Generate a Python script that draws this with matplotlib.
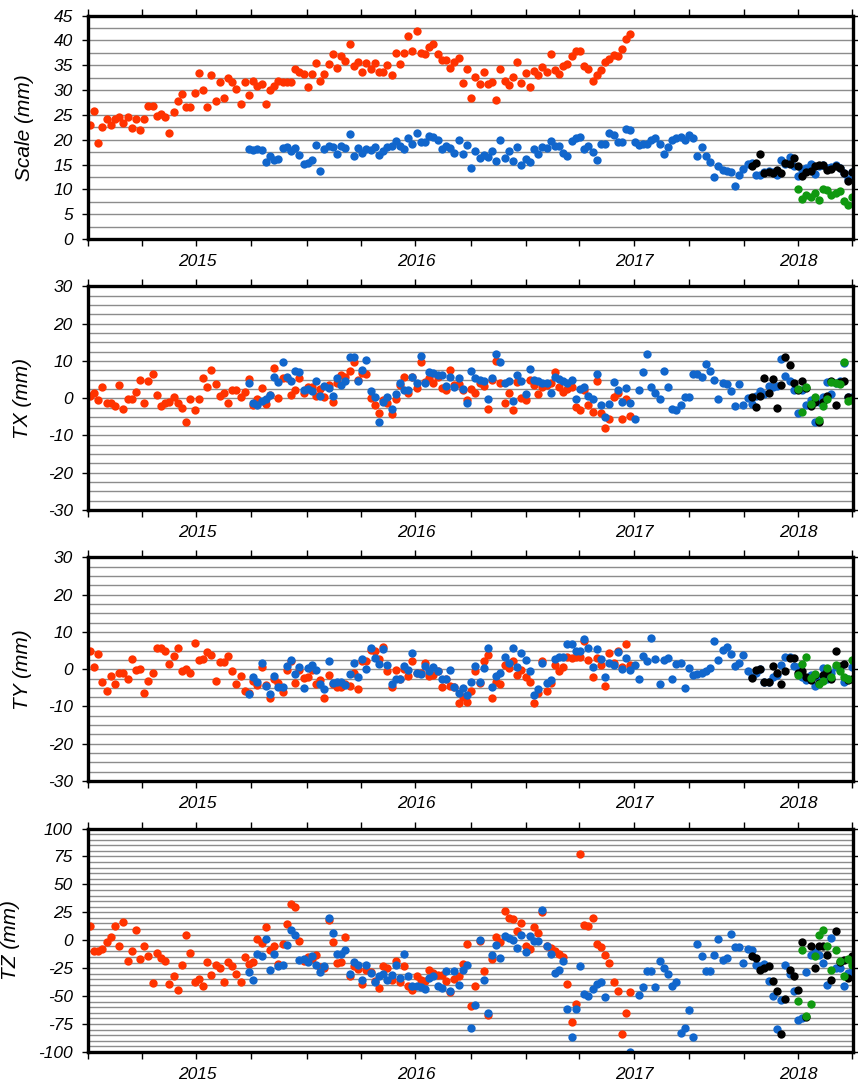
import numpy as np
import pandas as pd
import matplotlib
matplotlib.use('Agg')
import matplotlib.pyplot as plt
import matplotlib.dates as mdates
from matplotlib.ticker import MultipleLocator, FixedLocator, FixedFormatter, NullFormatter

plt.rcParams['font.family'] = ['Liberation Sans', 'DejaVu Sans']
plt.rcParams['axes.unicode_minus'] = False

# weekly solutions, four series (red, blue, black, green)
red_scale = [23.0,25.7,19.4,22.6,24.1,23.0,24.1,24.6,23.4,24.6, 22.4,24.2,22.0,24.2,26.8,26.8,24.8,25.1,24.6,21.4,
             25.5,27.7,29.1,26.5,26.5,29.3,33.4,30.1,26.5,33.0, 27.7,31.6,28.3,32.4,31.6,30.3,27.2,31.6,28.9,31.8,
             30.9,31.2,27.1,30.1,30.9,31.9,31.6,31.6,31.6,34.2, 33.7,33.3,30.6,33.2,35.5,31.8,33.2,35.3,37.3,34.4,
             36.8,35.8,39.3,34.9,35.6,33.7,35.4,34.2,35.4,33.6, 33.6,35.1,33.0,37.5,35.3,37.5,40.9,37.9,41.8,37.5,
             37.3,38.6,
             39.3,37.3,36.0,36.0,34.4,35.6,36.4,31.4,34.2,28.4, 32.7,31.3,33.6,31.3,31.7,27.9,34.2,31.8,31.1,32.6,
             35.6,31.5,33.4,30.7,33.8,33.0,34.6,33.6,37.3,34.0, 33.2,34.9,35.2,36.8,37.8,37.8,34.9,34.2,31.9,33.0,
             34.1,35.6,36.2,37.0,36.8,38.2,40.3,41.3]
red_tx = [0.6,1.5,-0.6,2.9,-1.2,-1.3,-2.1,3.6,-3.0,-0.3, -0.3,1.6,4.9,-1.2,4.7,6.4,0.8,-2.1,-1.2,-0.9,
          0.4,-1.2,-2.7,-6.4,-0.3,-3.2,-0.3,5.5,3.0,7.5, 3.9,0.6,1.3,-1.4,2.2,2.1,0.2,1.6,5.1,-1.7,
          -0.3,2.8,-1.6,0.9,8.1,0.0,5.4,5.4,0.9,2.2, 5.3,1.3,3.1,2.9,0.6,2.5,0.4,3.6,-1.0,4.0,
          6.2,5.8,7.4,9.6,4.9,6.7,6.4,0.1,-1.7,-4.0, -0.4,-1.3,-4.3,-0.3,3.6,5.8,1.3,5.6,2.7,9.6,
          4.3,5.4,
          4.2,5.8,2.7,2.1,7.6,3.6,3.8,2.2,-0.6,2.6, 1.3,4.0,3.4,-3.0,4.9,10.1,4.0,-1.4,1.3,-3.1,
          4.3,0.0,-0.6,4.9,3.6,1.0,2.9,3.6,4.0,7.0, 3.1,1.6,2.4,3.0,-2.3,-3.3,2.1,-1.9,-3.6,4.7,
          -4.0,-8.1,-5.6,0.2,1.3,-5.7,-0.1,-4.7]
red_ty = [4.8,0.6,4.0,-3.5,-5.8,-1.8,-4.0,-0.9,-1.1,-2.6, 2.7,-0.3,0.1,-6.5,-3.1,-1.0,5.8,5.6,4.8,1.3,
          3.6,5.6,-0.4,0.1,-1.1,7.1,2.5,2.8,4.5,3.8, -3.1,2.0,2.0,3.6,-0.6,-4.0,-1.7,-5.8,-6.5,-3.1,
          -4.2,0.6,-4.3,-7.8,-2.7,-3.8,-6.0,-0.2,2.3,-3.6, -0.2,-2.4,-2.0,-0.2,-4.0,-2.9,-7.6,-1.5,-4.0,-4.7,
          -4.7,-4.0,-4.4,-0.9,-5.4,2.1,2.1,5.2,4.8,2.7, 5.9,-0.4,-4.9,-0.2,-2.7,0.0,-1.7,2.1,-1.1,-1.1,
          1.6,-1.8,
          -1.5,-0.5,-4.7,-2.6,-4.5,-4.7,-9.2,-7.4,-8.9,-5.8, -0.6,-3.6,2.1,3.9,-7.6,-3.3,-4.0,1.2,0.3,2.1,
          -1.5,-0.2,-2.0,-3.3,-9.0,-6.5,2.1,-5.8,-3.8,1.2, -0.4,0.7,3.4,3.0,3.2,3.2,7.5,2.5,-2.0,3.0,
          1.2,-4.4,4.3,1.8,4.9,0.7,6.8,1.2]
red_tz = [13.1,-9.9,-9.9,-7.8,-1.8,3.0,13.1,-4.8,16.1,-18.2, -9.9,9.0,-16.4,-5.4,-13.7,-38.2,-11.3,-15.8,-18.2,-39.1,
          -32.2,-44.2,-22.4,4.5,-11.3,-37.3,-34.6,-41.2,-19.7,-30.7, -22.1,-24.8,-37.0,-19.7,-23.3,-30.1,-37.0,-15.2,-21.2,-19.4,
          1.2,-2.7,11.9,-8.4,-5.4,-21.2,-3.0,14.6,32.5,29.9, -0.9,-18.2,-15.2,-16.4,-12.8,-23.9,-25.1,18.5,-1.8,-20.3,
          -19.7,2.7,-32.2,-22.7,-25.7,-38.8,-26.3,-28.0,-36.7,-42.7, -23.3,-24.8,-35.8,-18.8,-37.3,-22.7,-41.2,-44.2,-32.2,-35.2,
          -36.7,-26.3,
          -29.3,-30.7,-31.3,-36.7,-46.6,-34.3,-32.2,-20.9,-3.3,-58.5, -40.6,-0.3,-27.8,-66.6,-16.4,3.0,-1.8,26.0,20.0,19.1,
          8.7,15.5,-5.4,-7.8,11.6,6.6,25.4,-5.4,-6.9,-9.9, -11.9,-15.2,-39.1,-73.1,-56.7,77.6,13.7,12.5,20.3,-3.3,
          -6.3,-13.4,-20.3,-37.3,-45.0,-83.9,-65.1,-46.6]

blue_scale = [18.1,17.9,18.1,17.9,15.5,16.8,15.9,16.1,18.3,18.5, 17.7,18.4,17.0,15.2,15.4,15.9,19.0,13.6,18.2,18.8,
              18.5,17.2,18.8,18.4,21.2,16.7,18.4,17.3,18.2,18.0, 18.6,17.0,17.7,18.6,18.8,19.8,18.8,18.2,20.4,19.1,
              21.4,19.6,19.6,20.7,
              20.6,19.9,18.1,18.8,18.4,17.3,20.0,17.1,19.0,14.4, 17.8,16.3,16.9,16.6,17.7,15.8,20.0,16.3,17.7,15.8,
              18.5,15.0,16.1,15.5,18.1,17.1,18.5,18.4,19.7,18.7, 18.8,17.4,16.8,19.7,20.4,20.6,18.2,18.8,17.5,16.0,
              19.1,19.1,21.4,20.9,19.5,19.6,22.1,21.9,19.6,19.0, 19.2,19.2,20.0,20.4,19.2,17.1,18.5,19.9,20.4,20.5,
              20.0,21.0,20.4,16.7,18.6,16.7,15.6,12.5,14.7,13.9, 13.7,13.5,10.7,12.8,14.1,15.1,15.4,12.9,12.9,13.5,
              13.6,13.5,12.9,15.9,15.2,16.5,14.8,12.7,13.9,14.2, 15.2,13.1,14.8,15.0,14.2,14.5,15.0,14.2,13.3,12.1,
              13.5]
blue_tx = [4.0,-1.3,-1.8,-0.8,-0.3,0.9,5.8,4.4,9.8,5.8, 4.7,7.4,6.9,2.2,2.5,1.8,4.6,0.7,3.4,2.7,
           0.6,5.4,3.5,4.7,11.0,11.0,4.7,7.6,10.3,1.8, 0.2,-6.4,-1.0,0.4,-2.9,1.0,4.0,2.1,2.1,5.8,
           4.0,11.4,4.2,6.9,
           6.7,6.2,6.3,3.2,5.8,2.9,5.4,2.6,-1.3,7.2, 5.4,4.9,4.7,-0.2,5.4,11.9,9.6,4.0,4.7,-0.7,
           6.3,4.5,1.1,7.8,4.9,4.7,4.0,4.0,1.3,5.8, 5.1,4.7,4.0,4.9,-0.1,2.6,3.0,0.7,-0.2,6.4,
           -1.9,-5.1,-1.5,4.3,2.1,-1.1,2.7,-1.3,-5.6,2.2, 7.0,11.9,2.9,1.5,-0.3,7.4,3.1,-3.0,-3.1,-1.8,
           0.3,0.4,6.4,6.4,5.8,9.2,7.2,4.9,-0.3,4.2, 3.8,1.8,-2.2,3.8,-1.7,0.0,-1.5,0.5,2.0,1.2,
           3.2,3.0,3.3,10.5,6.0,4.7,2.2,-4.1,2.2,-1.8, -0.4,-6.5,-1.0,0.4,4.3,1.0,4.0,4.7,9.5,0.3,
           0.4]
blue_ty = [-6.7,-2.2,-3.5,1.6,-4.4,-6.7,-1.8,-4.7,-4.9,0.9, 2.4,-1.3,0.6,-5.1,0.4,1.1,-0.1,-4.0,-5.2,2.2,
           -3.6,-3.3,-3.3,-4.2,-1.3,1.6,-2.0,2.7,0.0,5.7, 3.0,1.3,5.5,1.1,-4.0,-2.7,-2.7,0.9,-0.2,4.3,
           -0.9,-1.3,0.9,-0.6,
           0.7,-0.4,-2.7,-2.7,-0.2,-4.9,-6.5,-5.1,-6.9,-3.3, 0.9,-3.3,0.4,5.7,-4.7,-1.8,-0.9,3.2,1.6,5.7,
           0.5,4.3,2.5,-0.6,-6.9,-5.4,1.8,-3.8,-2.9,2.7, 3.2,3.2,6.8,6.8,4.8,5.0,8.1,5.6,0.7,5.4,
           2.7,-2.2,1.8,1.2,4.5,0.0,3.0,-0.2,1.2,-2.6, 3.6,2.3,8.4,2.7,-4.0,2.5,3.0,-2.6,1.3,1.6,
           -5.1,0.4,-1.5,-1.3,-0.9,-0.4,0.3,7.5,2.5,5.2, 6.1,4.1,0.9,1.6,3.9,-0.6,-2.0,-1.0,0.0,-3.5,
           -3.5,-2.0,-1.5,1.2,3.4,3.2,1.0,0.7,-2.0,-2.9, -1.5,-4.5,-2.5,0.3,-2.5,-1.0,0.5,0.7,-3.3,-2.5,
           0.5]
blue_tz = [-28.7,-35.8,-12.2,-14.3,1.5,-26.3,-11.9,-23.3,-22.4,-3.9, 9.6,4.5,-17.3,-16.4,-19.7,-13.7,-22.4,-28.7,-22.7,20.0,
           6.6,-11.9,-11.9,-8.4,-30.1,-19.7,-22.4,-35.2,-22.4,-29.3, -37.3,-32.2,-29.9,-35.8,-30.7,-22.4,-33.7,-11.9,-32.2,-41.2,
           -41.2,-42.1,-43.6,-33.7,
           -32.2,-41.2,-42.7,-27.2,-45.7,-27.8,-40.3,-26.3,-22.4,-78.5, -57.6,0.6,-35.2,-65.1,-13.4,-3.9,-15.8,4.2,2.1,0.0,
           -6.9,5.1,-10.4,3.6,-0.3,-0.9,27.5,-4.8,-12.2,-29.3, -26.3,-18.2,-61.5,-86.6,-61.2,-23.3,-47.8,-49.6,-43.3,-38.8,
           -37.3,-50.7,np.nan,np.nan,np.nan,np.nan,np.nan,-100.0,np.nan,-49.3, -42.1,-27.2,-27.2,-41.8,-18.8,-24.8,-29.9,-40.6,-37.3,-83.0,
           -78.5,-62.7,-86.6,-3.3,-14.3,-27.8,-27.2,-12.8,1.2,-17.9, -15.8,6.0,-6.0,-6.0,-20.3,-7.8,-8.4,-22.4,-23.3,-20.9,
           -36.7,-50.1,-79.1,-53.7,-22.4,-29.9,-45.7,-71.6,-69.6,-28.4, -13.4,-10.4,-13.4,-20.3,-40.3,2.1,-24.8,-24.8,-41.2,-29.3,
           -27.8]

black_scale = [14.8,15.3,17.1,13.3,13.4,13.3,13.9,13.3,15.3,15.2,16.4,14.8,12.7,13.5,13.6,14.7,14.9,15.0,13.9,14.1,
               14.7,14.2,13.2,11.7,13.5]
black_tx = [0.2,-2.4,0.7,5.5,1.3,5.1,-2.6,3.6,11.0,8.8,4.2,2.2,4.5,2.7,-2.0,-1.0,-6.3,-1.1,0.5,4.5,
            -1.8,4.3,4.7,0.3,0.0]
black_ty = [-2.3,-0.2,0.1,-3.5,-3.5,1.0,-0.9,-4.0,-0.4,3.0,3.0,-1.0,-0.5,-2.0,-3.0,-1.5,-3.8,-1.5,-0.5,-2.7,
            4.9,0.9,1.5,-2.9,-2.5]
black_tz = [-14.3,-15.8,-26.3,-24.8,-22.7,-36.7,-45.1,-83.6,-52.5,-26.3,-32.2,-44.8,-1.8,-68.9,-5.4,-24.8,-5.4,-5.4,-12.8,-35.8,
            8.7,-19.4,-17.3,-33.7,-14.3]

green_scale = [10.0,8.0,8.8,8.5,9.3,7.8,10.0,9.8,8.8,9.3,9.6,7.6,6.8,8.5]
green_tx = [2.5,-3.6,3.1,-1.5,0.4,-5.8,-2.2,-0.3,4.3,4.0,3.9,9.8,-0.7,-0.4]
green_ty = [-1.5,1.4,3.4,-2.4,-1.3,-4.0,-3.1,0.4,-2.2,1.2,-0.4,-2.2,-2.6,2.5]
green_tz = [-54.0,-9.0,-67.5,-57.0,-14.3,5.1,9.6,-4.8,-26.3,-8.4,-18.8,-32.2,-16.7,-21.8]

red_t = pd.date_range('2015-01-04', periods=len(red_scale), freq='7D')
blue_t = pd.date_range('2015-09-27', periods=len(blue_scale), freq='7D')
black_t = pd.date_range('2018-01-14', periods=len(black_scale), freq='7D')
green_t = pd.date_range('2018-04-01', periods=len(green_scale), freq='7D')

year_labels = ['2015', '2016', '2017', '2018']
year_pos = pd.to_datetime(['2015-07-02', '2016-07-02', '2017-07-02', '2018-04-01'])

panels = [
    ('Scale (mm)', (0, 45), 5, 2.5, [red_scale, blue_scale, black_scale, green_scale], -0.0824),
    ('TX (mm)', (-30, 30), 10, 2.5, [red_tx, blue_tx, black_tx, green_tx], -0.0863),
    ('TY (mm)', (-30, 30), 10, 2.5, [red_ty, blue_ty, black_ty, green_ty], -0.0863),
    ('TZ (mm)', (-100, 100), 25, 5, [red_tz, blue_tz, black_tz, green_tz], -0.102),
]
colors = ['#ff3300', '#1166cc', '#000000', '#109910']
times = [red_t, blue_t, black_t, green_t]
bottoms = [0.7797, 0.5300, 0.2802, 0.0304]

fig = plt.figure(figsize=(8.58, 10.85), dpi=100)

for (label, ylim, step, gstep, series, lx), b in zip(panels, bottoms):
    ax = fig.add_axes([0.1026, b, 0.8916, 0.2060])
    for t, v, c in zip(times, series, colors):
        ax.plot(t, v, 'o', color=c, ms=6.0, mew=0, zorder=3)

    ax.set_xlim(pd.Timestamp('2015-01-01'), pd.Timestamp('2018-07-02'))
    ax.set_ylim(*ylim)

    ax.yaxis.set_major_locator(MultipleLocator(step))
    ax.yaxis.set_minor_locator(MultipleLocator(gstep))
    ax.grid(True, axis='y', which='both', color='#8c8c8c', lw=1.0, zorder=1)
    ax.tick_params(axis='y', which='minor', length=0)
    ax.tick_params(axis='y', which='major', direction='out', length=4.5, width=1,
                   right=True, labelsize=12.5, pad=6.5)
    for tl in ax.get_yticklabels():
        tl.set_fontstyle('italic')

    ax.xaxis.remove_overlapping_locs = False
    ax.xaxis.set_major_locator(mdates.MonthLocator(bymonth=(1, 4, 7, 10)))
    ax.xaxis.set_major_formatter(NullFormatter())
    ax.xaxis.set_minor_locator(FixedLocator(mdates.date2num(year_pos)))
    ax.xaxis.set_minor_formatter(FixedFormatter(year_labels))
    ax.tick_params(axis='x', which='major', direction='out', length=5, width=1, top=True)
    ax.tick_params(axis='x', which='minor', length=0, pad=11, labelsize=12.5)
    for tl in ax.xaxis.get_minorticklabels():
        tl.set_fontstyle('italic')

    for sp in ax.spines.values():
        sp.set_linewidth(2.4)
        sp.set_zorder(5)

    ax.set_ylabel(label, fontsize=15, fontstyle='italic', va='center')
    ax.yaxis.set_label_coords(lx, 0.5)

fig.savefig('out.png', dpi=100)
